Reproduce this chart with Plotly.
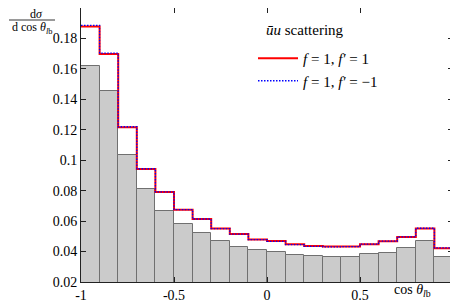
import plotly.graph_objects as go

edges = [-1.0 + 0.1 * i for i in range(21)]
centers = [round(-0.95 + 0.1 * i, 3) for i in range(20)]

gray_vals = [0.162, 0.1456, 0.1036, 0.0809, 0.0669, 0.0584, 0.052, 0.0468,
             0.0433, 0.0407, 0.040, 0.038, 0.0374, 0.0367, 0.0367, 0.0384,
             0.0393, 0.0426, 0.0472, 0.0367]
red_vals = [0.1879, 0.1698, 0.1217, 0.0942, 0.0791, 0.0675, 0.0614, 0.0551,
            0.0515, 0.048, 0.047, 0.0448, 0.0437, 0.0433, 0.0433, 0.0448,
            0.0467, 0.0496, 0.0551, 0.0422]
blue_vals = [0.1886, 0.1704, 0.1220, 0.0944, 0.0792, 0.0676, 0.0614, 0.0551,
             0.0514, 0.0478, 0.0467, 0.0446, 0.0434, 0.0431, 0.0432, 0.0449,
             0.0469, 0.0497, 0.0553, 0.0424]

xticks = [-1, -0.5, 0, 0.5, 1]
xticklabels = ["-1", "-0.5", "0", "0.5", "1"]
yticks = [0.02, 0.04, 0.06, 0.08, 0.1, 0.12, 0.14, 0.16, 0.18, 0.2]
yticklabels = ["0.02", "0.04", "0.06", "0.08", "0.1", "0.12", "0.14", "0.16", "0.18", "0.2"]

FONT = "Liberation Serif"

fig = go.Figure()
fig.add_trace(go.Bar(x=centers, y=gray_vals, width=0.1, base=0,
                     marker=dict(color="#cbcbcb", line=dict(color="#707070", width=1)),
                     showlegend=False, hoverinfo="skip"))
fig.add_trace(go.Scatter(x=edges, y=red_vals + [red_vals[-1]], mode="lines",
                         line=dict(color="#ff0000", width=2, shape="hv"),
                         name="<i>f</i> = 1, <i>f′</i> = 1"))
fig.add_trace(go.Scatter(x=edges, y=blue_vals + [blue_vals[-1]], mode="lines",
                         line=dict(color="#0000ff", width=1.3, shape="hv", dash="1.5px,1.5px"),
                         name="<i>f</i> = 1, <i>f′</i> = −1"))

OFF = 8  # page body margin
W, H = 450, 297
L, R, T, B = 73, 5, 0, 23
pw, ph = W - L - R, H - T - B

def px(xv):
    return (xv - OFF - L) / pw

def py(yv):
    return (OFF + H - B - yv) / ph

fig.update_layout(
    width=W, height=H,
    margin=dict(l=L, r=R, t=T, b=B),
    paper_bgcolor="white", plot_bgcolor="white",
    font=dict(family=FONT, size=14, color="black"),
    bargap=0,
    legend=dict(x=px(253), y=py(42), xanchor="left", yanchor="top",
                bgcolor="rgba(0,0,0,0)", font=dict(size=15, family=FONT, color="black"),
                tracegroupgap=0, itemwidth=40),
    xaxis=dict(range=[-1, 1], tickvals=xticks, ticktext=xticklabels,
               ticks="inside", ticklen=5, tickcolor="#222", showline=True,
               linecolor="#222", linewidth=1, mirror="allticks", showgrid=False,
               zeroline=False, tickfont=dict(size=14, family=FONT, color="black")),
    yaxis=dict(range=[0.02, 0.2], tickvals=yticks, ticktext=yticklabels,
               ticks="inside", ticklen=5, tickcolor="#222", showline=True,
               linecolor="#222", linewidth=1, mirror="allticks", showgrid=False,
               zeroline=False, tickfont=dict(size=14, family=FONT, color="black")),
    annotations=[
        dict(text="<i>ūu</i> scattering", x=px(264), y=py(30), xref="paper", yref="paper",
             xanchor="left", yanchor="middle", showarrow=False,
             font=dict(size=15, family=FONT, color="black")),
        dict(text="cos <i>θ</i><sub><i>l</i>b</sub>", x=px(412), y=py(290), xref="paper", yref="paper",
             xanchor="center", yanchor="middle", showarrow=False,
             font=dict(size=14, family=FONT, color="black")),
        dict(text="d<i>σ</i>", x=px(36), y=py(14), xref="paper", yref="paper",
             xanchor="center", yanchor="middle", showarrow=False,
             font=dict(size=12, family=FONT, color="black")),
        dict(text="d cos <i>θ</i><sub><i>l</i>b</sub>", x=px(32), y=py(28), xref="paper", yref="paper",
             xanchor="center", yanchor="middle", showarrow=False,
             font=dict(size=12, family=FONT, color="black")),
    ],
    shapes=[dict(type="line", xref="paper", yref="paper", x0=px(9), x1=px(55),
                 y0=py(20), y1=py(20), line=dict(color="black", width=0.8))],
)

fig.write_html("out.html")
